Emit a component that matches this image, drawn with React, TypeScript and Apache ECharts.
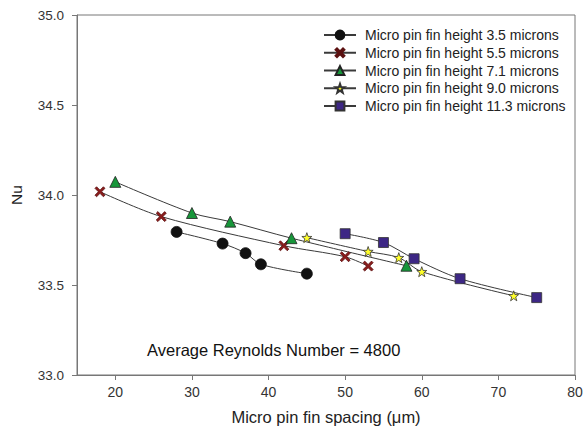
import React, { useEffect, useRef } from "react";
import * as echarts from "echarts";

const seriesNames = [
  "Micro pin fin height 3.5 microns",
  "Micro pin fin height 5.5 microns",
  "Micro pin fin height 7.1 microns",
  "Micro pin fin height 9.0 microns",
  "Micro pin fin height 11.3 microns",
];

const h35X = [28, 34, 37, 39, 45];
const h35Y = [33.795, 33.73, 33.677, 33.615, 33.563];

const h55X = [18, 26, 42, 50, 53];
const h55Y = [34.018, 33.88, 33.718, 33.657, 33.605];

const h71X = [20, 30, 35, 43, 58];
const h71Y = [34.073, 33.9, 33.852, 33.76, 33.607];

const h90X = [45, 53, 57, 60, 72];
const h90Y = [33.763, 33.686, 33.652, 33.574, 33.44];

const h113X = [50, 55, 59, 65, 75];
const h113Y = [33.785, 33.736, 33.646, 33.535, 33.43];

const xTicks = [20, 30, 40, 50, 60, 70, 80];

const FONT = "'Liberation Sans', Arial, sans-serif";

const CROSS =
  "path://M0,1.6 L1.6,0 L5,3.4 L8.4,0 L10,1.6 L6.6,5 L10,8.4 L8.4,10 L5,6.6 L1.6,10 L0,8.4 L3.4,5 Z";
const STAR =
  "path://M10,0 L12.35,6.76 L19.51,6.91 L13.8,11.24 L15.88,18.09 L10,14 L4.12,18.09 L6.2,11.24 L0.49,6.91 L7.65,6.76 Z";

function zip(xs: number[], ys: number[]) {
  return xs.map((x, i) => [x, ys[i]]);
}

export default function App() {
  const ref = useRef<HTMLDivElement>(null);
  useEffect(() => {
    if (!ref.current) return;
    const chart = echarts.init(ref.current, undefined, { renderer: "svg" });
    const lineStyle = { color: "#3a3a3a", width: 1 };
    const mk = (
      name: string,
      data: number[][],
      symbol: string,
      size: number,
      color: string,
      border: string
    ) => ({
      name,
      type: "line",
      data,
      smooth: 0.3,
      symbol,
      symbolSize: size,
      lineStyle,
      itemStyle: { color, borderColor: border, borderWidth: 0.8 },
      emphasis: { disabled: true },
    });
    chart.setOption({
      animation: false,
      backgroundColor: "#ffffff",
      grid: {
        left: 75,
        right: 13,
        top: 15,
        bottom: 66,
        show: true,
        borderColor: "#777",
        borderWidth: 1,
        backgroundColor: "transparent",
      },
      legend: {
        orient: "vertical",
        left: 318,
        top: 23,
        itemWidth: 32,
        itemHeight: 11,
        itemGap: 3.75,
        selectedMode: false,
        data: seriesNames,
        textStyle: {
          fontFamily: FONT,
          fontSize: 14,
          color: "#222",
          padding: [0, 0, 0, 4],
        },
      },
      xAxis: {
        type: "value",
        min: 15,
        max: 80,
        name: "Micro pin fin spacing (\u03bcm)",
        nameLocation: "middle",
        nameGap: 33,
        nameTextStyle: { fontFamily: FONT, fontSize: 16.5, color: "#222" },
        axisLine: { show: true, lineStyle: { color: "#777", width: 1 } },
        axisTick: {
          show: true,
          length: 5,
          lineStyle: { color: "#777" },
          customValues: xTicks,
        },
        axisLabel: {
          fontFamily: FONT,
          fontSize: 14,
          color: "#333",
          margin: 10,
          customValues: xTicks,
        },
        splitLine: { show: false },
      },
      yAxis: {
        type: "value",
        min: 33,
        max: 35,
        interval: 0.5,
        name: "Nu",
        nameLocation: "middle",
        nameGap: 53,
        nameRotate: 90,
        nameTextStyle: { fontFamily: FONT, fontSize: 15.5, color: "#222" },
        axisLine: { show: true, lineStyle: { color: "#777", width: 1 } },
        axisTick: { show: true, length: 5, lineStyle: { color: "#777" } },
        axisLabel: {
          fontFamily: FONT,
          fontSize: 13.5,
          color: "#333",
          margin: 13,
          formatter: (v: number) => v.toFixed(1),
        },
        splitLine: { show: false },
      },
      graphic: [
        {
          type: "text",
          left: 147,
          top: 341,
          style: {
            text: "Average Reynolds Number = 4800",
            font: `16.5px ${FONT}`,
            fill: "#111",
          },
        },
      ],
      series: [
        mk(seriesNames[0], zip(h35X, h35Y), "circle", 11, "#111111", "#111111"),
        mk(seriesNames[1], zip(h55X, h55Y), CROSS, 10, "#8b1c1c", "#5a1010"),
        mk(seriesNames[2], zip(h71X, h71Y), "triangle", 11, "#17963a", "#222"),
        mk(seriesNames[3], zip(h90X, h90Y), STAR, 10, "#ffff2a", "#333"),
        mk(seriesNames[4], zip(h113X, h113Y), "rect", 10, "#3d2785", "#333"),
      ],
    });
    return () => chart.dispose();
  }, []);
  return (
    <div
      ref={ref}
      style={{ position: "fixed", left: 0, top: 0, width: 588, height: 441 }}
    />
  );
}
